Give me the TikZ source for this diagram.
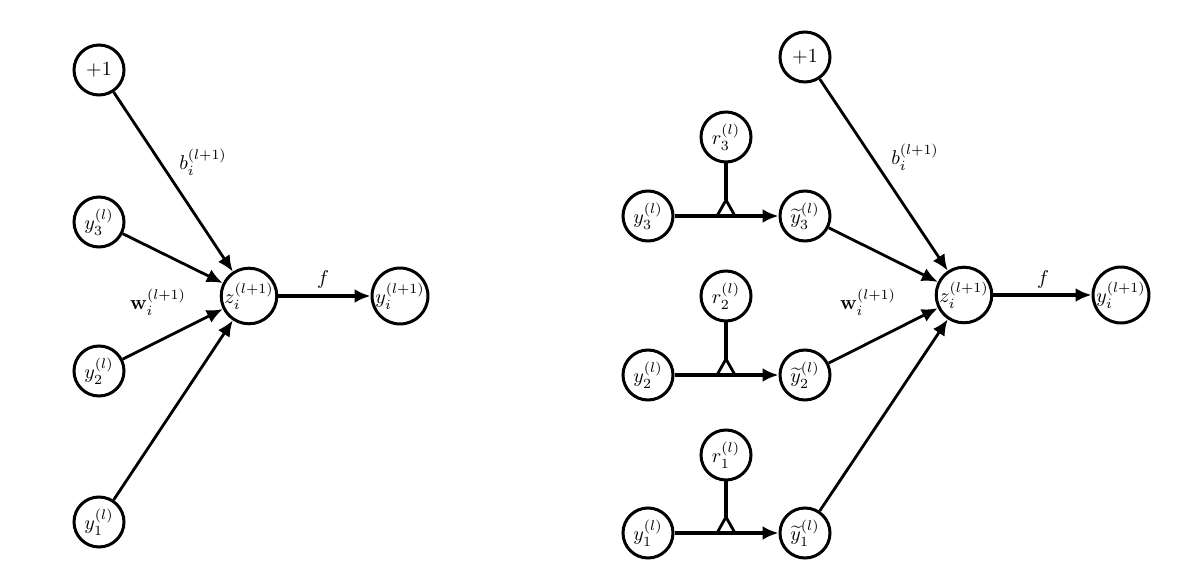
\documentclass[tikz,border=0pt]{standalone}
\usepackage{amsmath,amssymb}
\usetikzlibrary{arrows.meta}

\begin{document}
\begin{tikzpicture}[x=0.5pt, y=-0.5pt,
  unit/.style={draw, circle, line width=1.5pt, minimum size=25pt, inner sep=0pt},
  arr/.style={-{Latex[length=8pt,width=7pt]}, line width=1.4pt},
  fatarr/.style={-{Latex[length=8pt,width=7pt]}, line width=2.4pt},
  gate/.style={line width=2.4pt},
  lbl/.style={font=\normalsize}
]
\useasboundingbox (0,0) rectangle (1200,566);

% Left: standard network
\node[unit] (b)  at (99,70)   {$+1$};
\node[unit] (y3) at (99,222)  {$y_3^{(l)}$};
\node[unit] (y2) at (99,371)  {$y_2^{(l)}$};
\node[unit] (y1) at (99,522)  {$y_1^{(l)}$};
\node[unit] (z)  at (249,296) {$z_i^{(l+1)}$};
\node[unit] (yo) at (400,296) {$y_i^{(l+1)}$};

\node[lbl] (bl) at (203,162) {$b_i^{(l+1)}$};
\node[lbl] (wl) at (158,302) {$\mathbf{w}_i^{(l+1)}$};
\node[lbl] (fl) at (323,280) {$f$};

\draw[arr] (b)  -- (z);
\draw[arr] (y3) -- (z);
\draw[arr] (y2) -- (z);
\draw[arr] (y1) -- (z);
\draw[fatarr] (z) -- (yo);

% Right: dropout network
\node[unit] (db)  at (805,57)   {$+1$};
\node[unit] (r3)  at (726,137)  {$r_3^{(l)}$};
\node[unit] (dy3) at (648,216)  {$y_3^{(l)}$};
\node[unit] (ty3) at (805,216)  {$\widetilde{y}_3^{(l)}$};
\node[unit] (r2)  at (726,296)  {$r_2^{(l)}$};
\node[unit] (dy2) at (648,375)  {$y_2^{(l)}$};
\node[unit] (ty2) at (805,375)  {$\widetilde{y}_2^{(l)}$};
\node[unit] (r1)  at (726,455)  {$r_1^{(l)}$};
\node[unit] (dy1) at (648,533)  {$y_1^{(l)}$};
\node[unit] (ty1) at (805,533)  {$\widetilde{y}_1^{(l)}$};
\node[unit] (dz)  at (964,295)  {$z_i^{(l+1)}$};
\node[unit] (dyo) at (1121,295) {$y_i^{(l+1)}$};

\node[lbl] (dbl) at (915,157) {$b_i^{(l+1)}$};
\node[lbl] (dwl) at (868,302) {$\mathbf{w}_i^{(l+1)}$};
\node[lbl] (dfl) at (1043,280) {$f$};

% masks
\coordinate (t3) at (726,200);
\coordinate (t2) at (726,359);
\coordinate (t1) at (726,517);
\draw[fatarr] (dy3) -- (ty3);
\draw[fatarr] (dy2) -- (ty2);
\draw[fatarr] (dy1) -- (ty1);
\draw[gate] (r3) -- (t3);
\draw[gate] (r2) -- (t2);
\draw[gate] (r1) -- (t1);
\draw[line width=1.4pt] (t3) -- ++(-9,16) (t3) -- ++(9,16);
\draw[line width=1.4pt] (t2) -- ++(-9,16) (t2) -- ++(9,16);
\draw[line width=1.4pt] (t1) -- ++(-9,16) (t1) -- ++(9,16);

\draw[arr] (db)  -- (dz);
\draw[arr] (ty3) -- (dz);
\draw[arr] (ty2) -- (dz);
\draw[arr] (ty1) -- (dz);
\draw[fatarr] (dz) -- (dyo);
\end{tikzpicture}
\end{document}
